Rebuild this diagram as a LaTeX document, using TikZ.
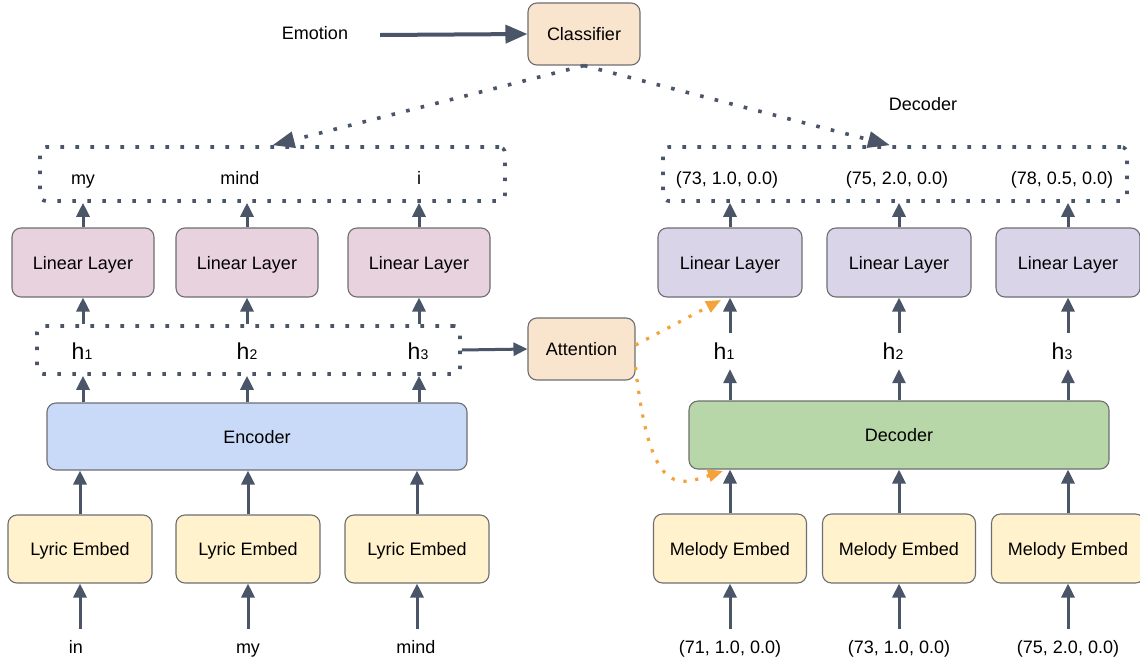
\documentclass[tikz,border=0pt]{standalone}
\usepackage{fontspec}
\setmainfont{Liberation Sans}
\usetikzlibrary{arrows.meta}
\definecolor{arrowc}{RGB}{74,85,104}
\definecolor{boxgray}{RGB}{110,110,115}
\definecolor{peach}{RGB}{249,228,205}
\definecolor{pinkll}{RGB}{231,210,222}
\definecolor{lavll}{RGB}{218,212,233}
\definecolor{encblue}{RGB}{201,218,248}
\definecolor{decgreen}{RGB}{184,215,168}
\definecolor{embyel}{RGB}{255,242,204}
\definecolor{orangec}{RGB}{244,163,58}
\newcommand{\hsub}[1]{{\fontsize{23}{26}\selectfont h}{\fontsize{14}{14}\selectfont #1}}
\tikzset{
  txt/.style={inner sep=0pt, font=\fontsize{18}{22}\selectfont, text height=13pt, text depth=4pt, text=black},
  boxn/.style={txt, text height=17pt, text depth=4pt, draw=boxgray, line width=1.1pt, rounded corners=9pt},
  arr/.style={draw=arrowc, line width=3pt, -{Triangle[length=14pt,width=13pt]}},
  bigarr/.style={draw=arrowc, line width=4pt, -{Triangle[length=22pt,width=18pt]}},
  dotbox/.style={draw=arrowc, line width=3.6pt, dash pattern=on 3.6pt off 11.4pt, rounded corners=6pt},
  dotarr/.style={draw=arrowc, line width=3.6pt, dash pattern=on 3.6pt off 11.4pt, -{Triangle[length=22pt,width=16pt]}},
  orarr/.style={draw=orangec, line width=3.2pt, dash pattern=on 3.2pt off 8.8pt, -{Triangle[length=15pt,width=12pt]}},
}
\begin{document}
\begin{tikzpicture}[x=1pt,y=-1pt]
\useasboundingbox[fill=white] (0,0) rectangle (1140,667);

% top
\node[txt, minimum width=130pt] (emo) at (315,35) {Emotion};
\node[boxn, fill=peach, minimum width=112pt, minimum height=62pt] (cls) at (584,34) {Classifier};
\node[txt] (declab) at (923,106) {Decoder};

% output dotted boxes
\node[dotbox, minimum width=465pt, minimum height=54pt] (lout) at (272.5,174) {};
\node[dotbox, minimum width=464pt, minimum height=54pt] (rout) at (895,174) {};
\node[txt] (w1) at (83,180) {my};
\node[txt] (w2) at (240,180) {mind};
\node[txt] (w3) at (419,180) {i};
\node[txt] (o1) at (727,180) {(73, 1.0, 0.0)};
\node[txt] (o2) at (897,180) {(75, 2.0, 0.0)};
\node[txt] (o3) at (1062,180) {(78, 0.5, 0.0)};

% linear layers
\node[boxn, fill=pinkll, minimum width=142pt, minimum height=69pt] (ll1) at (83,262.5) {Linear Layer};
\node[boxn, fill=pinkll, minimum width=142pt, minimum height=69pt] (ll2) at (247,262.5) {Linear Layer};
\node[boxn, fill=pinkll, minimum width=142pt, minimum height=69pt] (ll3) at (419,262.5) {Linear Layer};
\node[boxn, fill=lavll, minimum width=144pt, minimum height=69pt] (lr1) at (730,262.5) {Linear Layer};
\node[boxn, fill=lavll, minimum width=144pt, minimum height=69pt] (lr2) at (899,262.5) {Linear Layer};
\node[boxn, fill=lavll, minimum width=144pt, minimum height=69pt] (lr3) at (1068,262.5) {Linear Layer};

% h rows
\node[dotbox, minimum width=423pt, minimum height=48pt] (hbox) at (248.5,350) {};
\node[txt, text height=16pt, text depth=0pt] (hl1) at (82,351) {\hsub{1}};
\node[txt, text height=16pt, text depth=0pt] (hl2) at (247,351) {\hsub{2}};
\node[txt, text height=16pt, text depth=0pt] (hl3) at (418,351) {\hsub{3}};
\node[txt, text height=16pt, text depth=0pt, minimum height=36pt] (hr1) at (724,351) {\hsub{1}};
\node[txt, text height=16pt, text depth=0pt, minimum height=36pt] (hr2) at (893,351) {\hsub{2}};
\node[txt, text height=16pt, text depth=0pt, minimum height=36pt] (hr3) at (1062,351) {\hsub{3}};

\node[boxn, fill=peach, minimum width=107pt, minimum height=62pt] (att) at (581.5,349) {Attention};

% encoder / decoder
\node[boxn, fill=encblue, minimum width=420pt, minimum height=67pt] (enc) at (257,436.5) {Encoder};
\node[boxn, fill=decgreen, minimum width=420pt, minimum height=68pt] (dec) at (899,435) {Decoder};

% embeds
\node[boxn, fill=embyel, minimum width=144pt, minimum height=68pt] (le1) at (80,549) {Lyric Embed};
\node[boxn, fill=embyel, minimum width=144pt, minimum height=68pt] (le2) at (248,549) {Lyric Embed};
\node[boxn, fill=embyel, minimum width=144pt, minimum height=68pt] (le3) at (417,549) {Lyric Embed};
\node[boxn, fill=embyel, minimum width=153pt, minimum height=69pt] (me1) at (730,548.5) {Melody Embed};
\node[boxn, fill=embyel, minimum width=153pt, minimum height=69pt] (me2) at (899,548.5) {Melody Embed};
\node[boxn, fill=embyel, minimum width=153pt, minimum height=69pt] (me3) at (1068,548.5) {Melody Embed};

% inputs
\node[txt, minimum height=40pt] (in1) at (76,649) {in};
\node[txt, minimum height=40pt] (in2) at (248,649) {my};
\node[txt, minimum height=40pt] (in3) at (416,649) {mind};
\node[txt, minimum height=40pt] (mi1) at (730,649) {(71, 1.0, 0.0)};
\node[txt, minimum height=40pt] (mi2) at (899,649) {(73, 1.0, 0.0)};
\node[txt, minimum height=40pt] (mi3) at (1068,649) {(75, 2.0, 0.0)};

% connectors: top
\draw[bigarr] (emo.east) -- (cls.west);
\draw[dotarr] (cls.south) -- (lout.north);
\draw[dotarr] (cls.south) -- ([xshift=-5pt]rout.north);

% left column arrows
\foreach \i in {1,2,3} {
  \draw[arr] (le\i.south |- in\i.north) -- (le\i.south);
  \draw[arr] (le\i.north) -- (le\i.north |- enc.south);
  \draw[arr] (ll\i.south |- enc.north) -- (ll\i.south |- hbox.south);
  \draw[arr] (ll\i.south |- hbox.north) -- (ll\i.south);
  \draw[arr] (ll\i.north) -- (ll\i.north |- lout.south);
}
% right column arrows
\foreach \i in {1,2,3} {
  \draw[arr] (me\i.south |- mi\i.north) -- (me\i.south);
  \draw[arr] (me\i.north) -- (me\i.north |- dec.south);
  \draw[arr] (lr\i.south |- dec.north) -- (lr\i.south |- hr\i.south);
  \draw[arr] (lr\i.south |- hr\i.north) -- (lr\i.south);
  \draw[arr] (lr\i.north) -- (lr\i.north |- rout.south);
}

% attention
\draw[arr] (hbox.east) -- (att.west);
\coordinate (attup) at (721,300);
\coordinate (attdn) at (723,471);
\draw[orarr] ([yshift=4pt]att.east) -- (attup);
\draw[orarr] ([yshift=-18pt]att.east) .. controls (650,500) and (680,485) .. (attdn);
\end{tikzpicture}
\end{document}
